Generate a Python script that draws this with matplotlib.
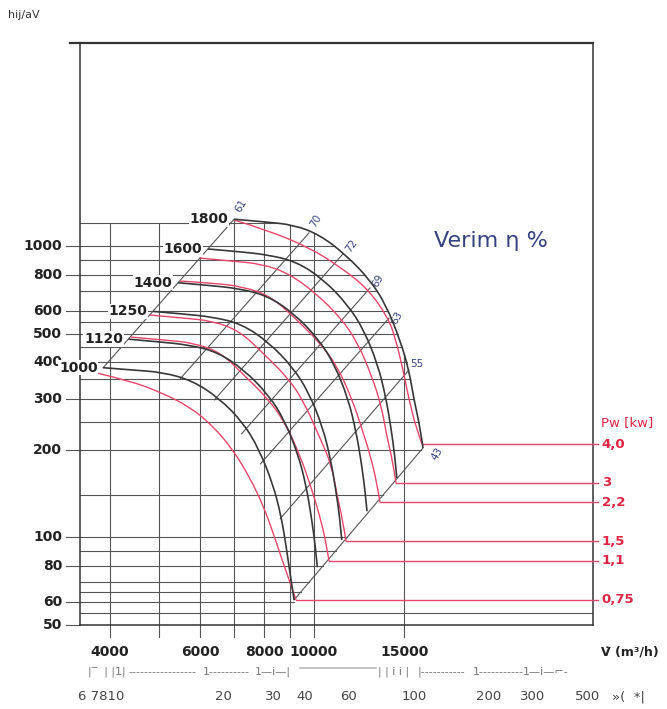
import numpy as np
import matplotlib.pyplot as plt
from matplotlib.path import Path
from matplotlib.patches import PathPatch

# axis limits of the fan chart (log-log)
Q_MIN, Q_MAX = 3500, 35000      # flow, m3/h
P_MIN, P_MAX = 50, 5000         # pressure, Pa

# fan curves per speed (rpm): flow m3/h, pressure Pa
rpm_labels = ['1800', '1600', '1400', '1250', '1120', '1000']
q_1800 = [6990, 8000, 9150, 10280, 11550, 12870, 13820, 14720, 15320, 15670, 16100, 16320]
p_1800 = [1240, 1215, 1185, 1094, 934, 766, 629, 477, 376, 297, 240, 203]
q_1600 = [6210, 7110, 8130, 9264, 10455, 11646, 12511, 13326, 13805, 14119, 14374, 14510]
p_1600 = [980, 960, 936, 885, 768, 629, 517, 392, 304, 241, 192, 160]
q_1400 = [5437, 6222, 7117, 8105, 9145, 10190, 10944, 11655, 12078, 12354, 12578, 12693]
p_1400 = [750, 735, 717, 678, 588, 482, 396, 301, 232, 184, 146, 123]
q_1250 = [4854, 5556, 6354, 7236, 8165, 9099, 9770, 10406, 10784, 11030, 11231, 11333]
p_1250 = [598, 586, 572, 541, 468, 384, 315, 239, 185, 146, 117, 98]
q_1120 = [4349, 4978, 5693, 6483, 7316, 8152, 8754, 9324, 9662, 9883, 10063, 10154]
p_1120 = [480, 470, 459, 434, 376, 309, 254, 192, 150, 118, 94, 79]
q_1000 = [3883, 4444, 5083, 5789, 6533, 7279, 7816, 8325, 8627, 8824, 8984, 9150]
p_1000 = [383, 376, 369, 346, 301, 248, 201, 152, 119, 94, 75, 61]

# shaft power curves (red), kW
pw_labels = ['4,0', '3', '2,2', '1,5', '1,1', '0,75']
q_pw40 = [6986, 8099, 9828, 11245, 12690, 13940, 14450, 14920, 15330, 15820, 16250]
p_pw40 = [1233, 1139, 988, 850, 720, 572, 477, 376, 297, 238, 209]
q_pw30 = [5999, 6895, 7931, 8950, 10098, 11295, 12170, 12985, 13545, 13867, 14259, 14454]
p_pw30 = [912, 891, 870, 806, 689, 567, 467, 356, 282, 223, 181, 154]
q_pw22 = [5482, 6320, 7291, 8250, 9229, 10280, 11096, 11866, 12408, 12887, 13265, 13453]
p_pw22 = [760, 749, 727, 673, 563, 466, 388, 299, 236, 191, 154, 132]
q_pw15 = [4791, 5510, 6335, 7151, 7960, 8904, 9566, 10234, 10822, 11078, 11389, 11550]
p_pw15 = [581, 568, 555, 513, 430, 353, 292, 223, 178, 141, 114, 97]
q_pw11 = [4399, 5093, 5834, 6596, 7309, 8175, 8820, 9440, 9870, 10262, 10556, 10702]
p_pw11 = [488, 477, 466, 431, 361, 297, 245, 187, 149, 119, 96.5, 83]
q_pw075 = [3777, 4381, 5012, 5733, 6360, 6956, 7508, 7960, 8323, 8665, 8984, 9229]
p_pw075 = [367, 345, 316, 281, 241, 200, 160, 129, 104, 84, 70, 61]

# efficiency lines (system lines): top end on 1800 curve, bottom end on 1000 curve
eff_labels = ['61', '70', '72', '69', '63', '55', '43']
eff_q_top = [6990, 9780, 11390, 12866, 14010, 15320, 16320]
eff_p_top = [1240, 1112, 942, 720, 567, 376, 203]
eff_q_bot = [3883, 5490, 6400, 7230, 7870, 8600, 9150]
eff_p_bot = [383, 351, 297, 227, 179, 116, 61]

# grid and axis labels
grid_p = [55, 60, 65, 70, 80, 90, 100, 140, 200, 250, 300, 350, 400, 450,
          500, 550, 600, 700, 800, 900, 1000, 1200]
grid_q = [4000, 5000, 6000, 7000, 8000, 9000, 10000, 15000]
ytick_vals = [1000, 800, 600, 500, 400, 300, 200, 100, 80, 60, 50]
xtick_vals = [4000, 6000, 8000, 10000, 15000]
sub_labels = ['6 7810', '20', '30', '40', '60', '100', '200', '300', '500', '»(  *|']

black_curves = [(q_1800, p_1800), (q_1600, p_1600), (q_1400, p_1400),
                (q_1250, p_1250), (q_1120, p_1120), (q_1000, p_1000)]
red_curves = [(q_pw40, p_pw40), (q_pw30, p_pw30), (q_pw22, p_pw22),
              (q_pw15, p_pw15), (q_pw11, p_pw11), (q_pw075, p_pw075)]

W, H = 667, 709
GRID = '#555555'
CURVE = '#383838'
RED = '#e8456a'
RED_TXT = '#e02444'
BLUE = '#34417e'
SCALE = '#777777'


def fx(px):
    return px / W


def fy(py):
    return 1 - py / H


def smooth(q, p, **kw):
    # quadratic bezier through the read points (midpoints taken in log space)
    lq, lp = np.log(q), np.log(p)
    verts = [(q[0], p[0])]
    codes = [Path.MOVETO]
    n = len(q)
    for i in range(1, n - 1):
        if i < n - 2:
            end = (np.exp((lq[i] + lq[i + 1]) / 2), np.exp((lp[i] + lp[i + 1]) / 2))
        else:
            end = (q[-1], p[-1])
        verts += [(q[i], p[i]), end]
        codes += [Path.CURVE3, Path.CURVE3]
    ax.add_patch(PathPatch(Path(verts, codes), fill=False, **kw))


def env_q(p):
    # flow where a horizontal grid line meets the outer border
    if p >= p_1800[-1]:
        return np.exp(np.interp(np.log(p), np.log(p_1800[::-1]), np.log(q_1800[::-1])))
    if p >= 59:
        return np.exp(np.interp(np.log(p), np.log([eff_p_bot[-1], eff_p_top[-1]]),
                                np.log([eff_q_bot[-1], eff_q_top[-1]])))
    return Q_MAX


def env_p(q):
    # pressure where a vertical grid line meets the outer border
    if q >= q_1800[0]:
        return np.exp(np.interp(np.log(q), np.log(q_1800), np.log(p_1800)))
    if q < 5500:
        return 1200
    return eff_p_top[0] * (q / eff_q_top[0]) ** 2


fig = plt.figure(figsize=(W / 100, H / 100), dpi=100)
ax = fig.add_axes([fx(80), fy(625), 513 / W, 582 / H])
ax.set_xscale('log')
ax.set_yscale('log')
ax.set_xlim(Q_MIN, Q_MAX)
ax.set_ylim(P_MIN, P_MAX)
ax.tick_params(which='both', length=0, labelbottom=False, labelleft=False)
for s in ax.spines.values():
    s.set_color('#333333')
    s.set_linewidth(1.1)
ax.spines['top'].set_linewidth(1.6)
fig.add_artist(plt.Line2D([fx(70), fx(80)], [fy(43), fy(43)], color='#333333', lw=1.6))

# horizontal grid
for p in grid_p:
    ax.plot([Q_MIN, env_q(p)], [p, p], color=GRID, lw=0.8, zorder=1)

# vertical grid, running a little below the frame
for q in grid_q:
    ax.plot([q, q], [45.5, env_p(q)], color=GRID, lw=0.8, zorder=1, clip_on=False)

# efficiency lines
for qt, pt, qb, pb in zip(eff_q_top, eff_p_top, eff_q_bot, eff_p_bot):
    ax.plot([qb, qt], [pb, pt], color=GRID, lw=0.8, zorder=2)

# red power curves and their lines to the right-hand scale
for (q, p), lab in zip(red_curves, pw_labels):
    smooth(q, p, edgecolor=RED, lw=1.0, zorder=3)
    ax.plot([q[-1], 35800], [p[-1], p[-1]], color=RED, lw=1.0, zorder=3, clip_on=False)
    ax.text(36400, p[-1], lab, color=RED_TXT, fontsize=9.5, fontweight='bold',
            ha='left', va='center', clip_on=False)

# black fan curves with rpm labels
for (q, p), lab in zip(black_curves, rpm_labels):
    smooth(q, p, edgecolor=CURVE, lw=1.2, zorder=4)
    ax.annotate(lab, (q[0], p[0]), xytext=(-4, 0), textcoords='offset points',
                ha='right', va='center', fontsize=10, fontweight='bold', color='#222222',
                bbox=dict(boxstyle='square,pad=0.05', fc='white', ec='none'), zorder=5)

# efficiency labels
eff_off = [(5, 10), (5, 9), (6, 6), (6, 5), (6, 0), (6, 4), (10, -4)]
eff_rot = [60, 60, 55, 60, 60, 0, 60]
for lab, qt, pt, off, rot in zip(eff_labels, eff_q_top, eff_p_top, eff_off, eff_rot):
    ax.annotate(lab, (qt, pt), xytext=off, textcoords='offset points', rotation=rot,
                ha='center', va='center', fontsize=7.5, color=BLUE)

# y axis labels
for v in ytick_vals:
    ax.plot([3280, Q_MIN], [v, v], color=GRID, lw=0.8, clip_on=False)
    ax.text(3230, v, str(v), ha='right', va='center', fontsize=10, fontweight='bold',
            color='#222222', clip_on=False)

# x axis labels
for v in xtick_vals:
    ax.text(v, 40.4, str(v), ha='center', va='center', fontsize=10, fontweight='bold',
            color='#222222', clip_on=False)

fig.text(fx(630), fy(652), 'V̇ (m³/h)', ha='center', va='center', fontsize=9,
         fontweight='bold', color='#222222')
fig.text(fx(627), fy(423), 'Pw [kw]', ha='center', va='center', fontsize=9.5, color=RED_TXT)
fig.text(fx(491), fy(241), 'Verim η %', ha='center', va='center', fontsize=16, color=BLUE)
fig.text(fx(8), fy(15), 'hij/aV', ha='left', va='center', fontsize=8, color='#333333')

# secondary scale below the chart
scale_parts = [(88, '|‾  | |1|'), (128, '-----------------'), (203, '1----------'),
               (255, '1—i—|'), (378, '| | i i |'), (418, '|-----------'),
               (473, '1-----------'), (523, '1—i—⌐-')]
for x, s in scale_parts:
    fig.text(fx(x), fy(672), s, ha='left', va='center', fontsize=8, color=SCALE)
fig.add_artist(plt.Line2D([fx(300), fx(376)], [fy(668), fy(668)], color='#bbbbbb', lw=1.2))
sub_x = [78, 215, 265, 296, 340, 402, 476, 520, 575, 612]
for lab, x in zip(sub_labels, sub_x):
    fig.text(fx(x), fy(697), lab, ha='left', va='center', fontsize=9.5, color='#444444')

fig.savefig('out.png', dpi=100)
